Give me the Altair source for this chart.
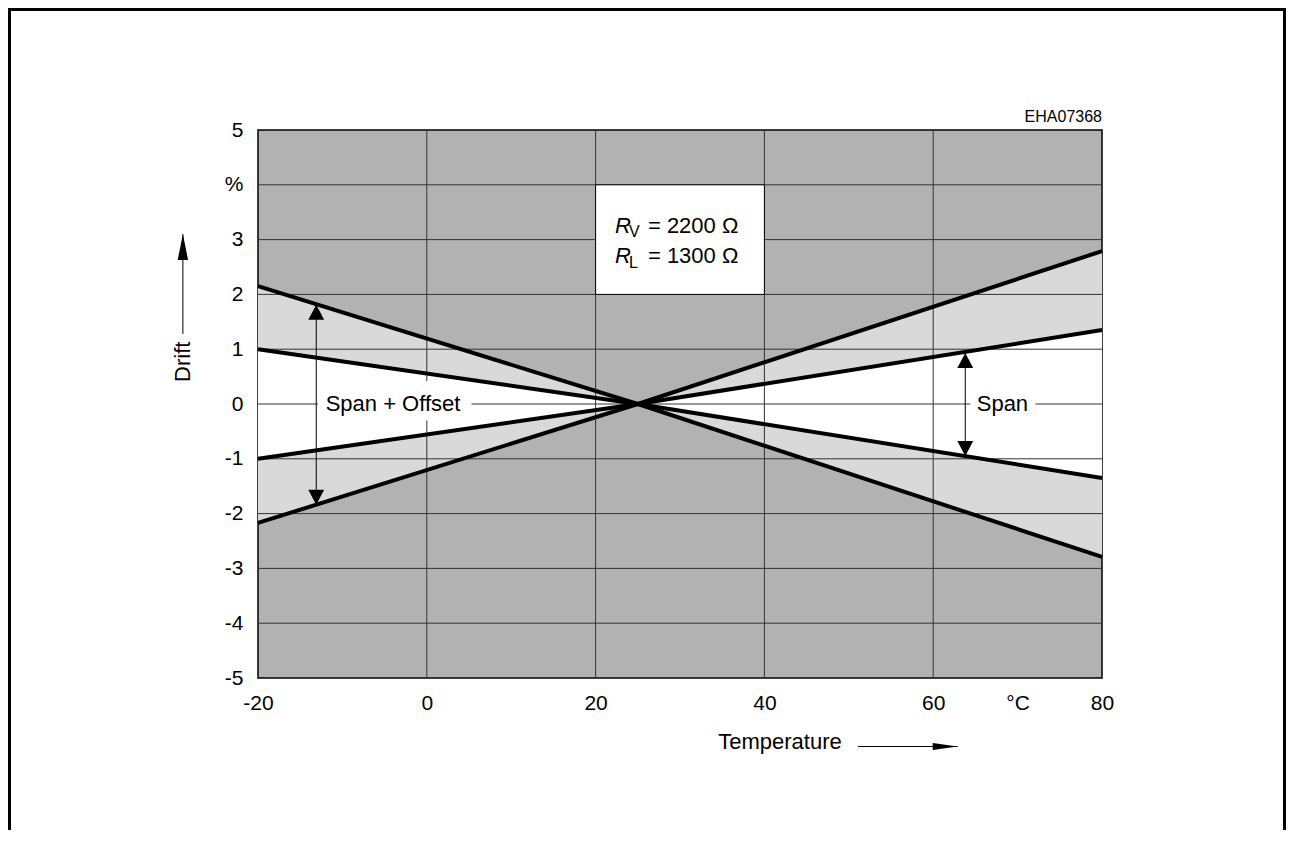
import altair as alt
import pandas as pd

FONT = "Liberation Sans"

# ---------------- data ----------------
temps = [-20, 25, 80]
drift_a = [2.15, 0.0, -2.79]    # outer line, falling
drift_b = [1.00, 0.0, -1.35]    # inner line, falling
drift_c = [-1.00, 0.0, 1.35]    # inner line, rising
drift_d = [-2.17, 0.0, 2.79]    # outer line, rising

x_grid = [0, 20, 40, 60]
y_grid = [-4, -3, -2, -1, 0, 1, 2, 3, 4]
x_ticks = [-20, 0, 20, 40, 60, 70, 80]
y_ticks = [-5, -4, -3, -2, -1, 0, 1, 2, 3, 4, 5]

box_x = [20, 40]
box_y = [2, 4]
box_sym = ["R", "R"]
box_sub = ["V", "L"]
box_main = ["= 2200 Ω", "= 1300 Ω"]
box_sym_x = [22.3, 22.3]
box_sub_x = [23.96, 23.96]
box_main_x = [26.2, 26.2]
box_line_y = [3.12, 2.58]
box_sub_y = [3.05, 2.48]

span_labels = ["Span + Offset", "Span"]
span_label_x = [-4.0, 68.2]
span_label_y = [0.0, 0.0]
span_gap_x1 = [-12.9, 64.4]
span_gap_x2 = [5.3, 72.1]
span_gap_y1 = [-0.3, -0.3]
span_gap_y2 = [0.42, 0.42]
arrow_x = [-13.1, 63.8]
arrow_top = [1.81, 0.93]
arrow_bottom = [-1.84, -0.95]

code_label = ["EHA07368"]
code_x = [80]
code_y = [5.15]

drift_title = ["Drift"]
drift_title_x = [-28.9]
drift_title_y = [0.77]
drift_arrow_x = [-28.9]
drift_arrow_y1 = [1.28]
drift_arrow_y2 = [3.1]

temp_title = ["Temperature"]
temp_title_x = [41.85]
temp_title_y = [-6.17]
temp_arrow_x1 = [51.1]
temp_arrow_x2 = [62.9]
temp_arrow_y = [-6.25]

# ---------------- tables ----------------
lines_df = pd.DataFrame({
    "t": temps * 4,
    "drift": drift_a + drift_b + drift_c + drift_d,
    "series": ["a"] * 3 + ["b"] * 3 + ["c"] * 3 + ["d"] * 3,
})
bands_df = pd.DataFrame({
    "t": temps,
    "out_hi": [max(a, d) for a, d in zip(drift_a, drift_d)],
    "out_lo": [min(a, d) for a, d in zip(drift_a, drift_d)],
    "in_hi": [max(b, c) for b, c in zip(drift_b, drift_c)],
    "in_lo": [min(b, c) for b, c in zip(drift_b, drift_c)],
})
span_df = pd.DataFrame({
    "label": span_labels, "lx": span_label_x, "ly": span_label_y,
    "gx1": span_gap_x1, "gx2": span_gap_x2, "gy1": span_gap_y1, "gy2": span_gap_y2,
    "ax": arrow_x, "atop": arrow_top, "abot": arrow_bottom,
})
box_df = pd.DataFrame({"x1": [box_x[0]], "x2": [box_x[1]], "y1": [box_y[0]], "y2": [box_y[1]]})
box_text_df = pd.DataFrame({
    "sym": box_sym, "sub": box_sub, "main": box_main,
    "sx": box_sym_x, "subx": box_sub_x, "mx": box_main_x,
    "ly": box_line_y, "suby": box_sub_y,
})
code_df = pd.DataFrame({"label": code_label, "x": code_x, "y": code_y})
drift_df = pd.DataFrame({"label": drift_title, "x": drift_title_x, "y": drift_title_y,
                         "ax": drift_arrow_x, "ay1": drift_arrow_y1, "ay2": drift_arrow_y2})
temp_df = pd.DataFrame({"label": temp_title, "x": temp_title_x, "y": temp_title_y,
                        "ax1": temp_arrow_x1, "ax2": temp_arrow_x2, "ay": temp_arrow_y})
one_df = pd.DataFrame({"k": [1]})

# ---------------- scales / axes ----------------
xs = alt.Scale(domain=[-20, 80], nice=False, zero=False)
ys = alt.Scale(domain=[-5, 5], nice=False, zero=False)
x_axis = alt.Axis(values=x_ticks, labelExpr="datum.value == 70 ? '°C' : '' + datum.value",
                  grid=False, ticks=False, tickSize=0, domain=False, title=None,
                  labelPadding=14, labelFontSize=21, labelFont=FONT, labelColor="black",
                  labelFlush=False, labelOverlap=False, labelBound=False)
y_axis = alt.Axis(values=y_ticks, labelExpr="datum.value == 4 ? '%' : '' + datum.value",
                  grid=False, ticks=False, tickSize=0, domain=False, title=None,
                  labelPadding=15, labelFontSize=21, labelFont=FONT, labelColor="black",
                  labelFlush=False, labelOverlap=False, labelBound=False)


def ex(f):
    return alt.X(f, type="quantitative", scale=xs, axis=x_axis)


def ey(f):
    return alt.Y(f, type="quantitative", scale=ys, axis=y_axis)


UP = "M0,0L0.53,1L-0.53,1Z"
DOWN = "M0,0L0.53,-1L-0.53,-1Z"
UP_THIN = "M0,0L0.2,1L-0.2,1Z"
RIGHT = "M0,0L-1,0.14L-1,-0.14Z"

light = alt.Chart(bands_df).mark_area(color="#d9d9d9", opacity=1).encode(
    x=ex("t"), y=ey("out_hi"), y2="out_lo")
white = alt.Chart(bands_df).mark_area(color="white", opacity=1).encode(
    x=ex("t"), y=ey("in_hi"), y2="in_lo")
hgrid = alt.Chart(pd.DataFrame({"g": y_grid})).mark_rule(color="#333333", strokeWidth=1).encode(y=ey("g"))
vgrid = alt.Chart(pd.DataFrame({"g": x_grid})).mark_rule(color="#333333", strokeWidth=1).encode(x=ex("g"))
gaps = alt.Chart(span_df).mark_rect(color="white", opacity=1).encode(
    x=ex("gx1"), x2="gx2", y=ey("gy1"), y2="gy2")
box = alt.Chart(box_df).mark_rect(fill="white", stroke="black", strokeWidth=1, opacity=1).encode(
    x=ex("x1"), x2="x2", y=ey("y1"), y2="y2")
lines = alt.Chart(lines_df).mark_line(color="black", strokeWidth=4).encode(
    x=ex("t"), y=ey("drift"), detail="series:N")
stems = alt.Chart(span_df).mark_rule(color="black", strokeWidth=1).encode(
    x=ex("ax"), y=ey("atop"), y2="abot")
heads_up = alt.Chart(span_df).mark_point(shape=UP, size=900, filled=True, color="black",
                                         opacity=1, strokeWidth=0).encode(x=ex("ax"), y=ey("atop"))
heads_dn = alt.Chart(span_df).mark_point(shape=DOWN, size=900, filled=True, color="black",
                                         opacity=1, strokeWidth=0).encode(x=ex("ax"), y=ey("abot"))
span_text = alt.Chart(span_df).mark_text(font=FONT, fontSize=22, color="black",
                                         align="center", baseline="middle").encode(
    x=ex("lx"), y=ey("ly"), text="label:N")

sym_text = alt.Chart(box_text_df).mark_text(font=FONT, fontSize=22, fontStyle="italic", color="black",
                                            align="left", baseline="alphabetic").encode(
    x=ex("sx"), y=ey("ly"), text="sym:N")
sub_text = alt.Chart(box_text_df).mark_text(font=FONT, fontSize=16, color="black",
                                            align="left", baseline="alphabetic").encode(
    x=ex("subx"), y=ey("suby"), text="sub:N")
main_text = alt.Chart(box_text_df).mark_text(font=FONT, fontSize=22, color="black",
                                             align="left", baseline="alphabetic").encode(
    x=ex("mx"), y=ey("ly"), text="main:N")

code_text = alt.Chart(code_df).mark_text(font=FONT, fontSize=16, color="black",
                                         align="right", baseline="alphabetic").encode(
    x=ex("x"), y=ey("y"), text="label:N")

drift_text = alt.Chart(drift_df).mark_text(font=FONT, fontSize=22, color="black", angle=270,
                                           align="center", baseline="middle").encode(
    x=ex("x"), y=ey("y"), text="label:N")
drift_stem = alt.Chart(drift_df).mark_rule(color="black", strokeWidth=1).encode(
    x=ex("ax"), y=ey("ay1"), y2="ay2")
drift_head = alt.Chart(drift_df).mark_point(shape=UP_THIN, size=2704, filled=True, color="black",
                                            opacity=1, strokeWidth=0).encode(x=ex("ax"), y=ey("ay2"))

temp_text = alt.Chart(temp_df).mark_text(font=FONT, fontSize=22, color="black",
                                         align="center", baseline="middle").encode(
    x=ex("x"), y=ey("y"), text="label:N")
temp_stem = alt.Chart(temp_df).mark_rule(color="black", strokeWidth=1).encode(
    x=ex("ax1"), x2="ax2", y=ey("ay"))
temp_head = alt.Chart(temp_df).mark_point(shape=RIGHT, size=2500, filled=True, color="black",
                                          opacity=1, strokeWidth=0).encode(x=ex("ax2"), y=ey("ay"))

# page frame (decoration)
frame_l = alt.Chart(one_df).mark_rule(color="black", strokeWidth=3).encode(
    x=alt.value(-248.5), y=alt.value(-120.5), y2=alt.value(706))
frame_t = alt.Chart(one_df).mark_rule(color="black", strokeWidth=3).encode(
    x=alt.value(-250), x2=alt.value(1028), y=alt.value(-120.5))
frame_r = alt.Chart(one_df).mark_rule(color="black", strokeWidth=3).encode(
    x=alt.value(1026.5), y=alt.value(-120.5), y2=alt.value(706))

chart = alt.layer(
    light, white, hgrid, vgrid, gaps, box, lines, stems, heads_up, heads_dn, span_text,
    sym_text, sub_text, main_text, code_text,
    drift_text, drift_stem, drift_head, temp_text, temp_stem, temp_head,
    frame_l, frame_t, frame_r,
).properties(
    width=844, height=548,
    autosize=alt.AutoSizeParams(type="none"),
    padding={"left": 250, "top": 122, "right": 184, "bottom": 152},
    background="white",
).configure_view(fill="#b2b2b2", stroke="black", strokeWidth=1.5)

chart.save("out.html", embed_options={"renderer": "svg", "actions": False})
